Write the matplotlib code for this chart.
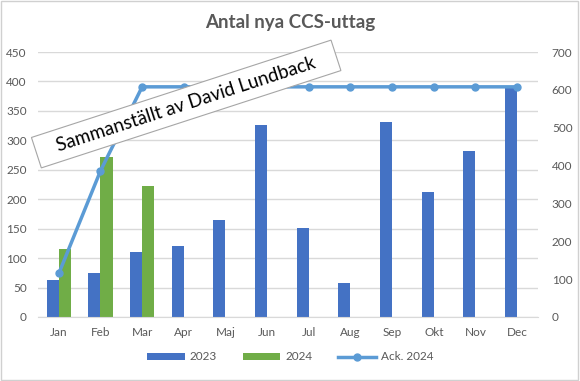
import numpy as np
import matplotlib
matplotlib.use('Agg')
from matplotlib import pyplot as plt
from matplotlib.patches import Rectangle

months = ['Jan', 'Feb', 'Mar', 'Apr', 'Maj', 'Jun', 'Jul', 'Aug', 'Sep', 'Okt', 'Nov', 'Dec']
values_2023 = [63, 74, 110, 120, 165, 326, 151, 57, 331, 212, 282, 391]
values_2024 = [115, 271, 222]
ack_2024 = [115, 386, 608, 608, 608, 608, 608, 608, 608, 608, 608, 608]

BLUE = '#4472C4'
GREEN = '#70AD47'
LINE = '#5B9BD5'
TEXT = '#595959'
GRID = '#D9D9D9'

plt.rcParams['font.family'] = ['Lato', 'DejaVu Sans']

fig = plt.figure(figsize=(5.8, 3.81), dpi=100)
fig.patches.append(Rectangle((0.002, 0.003), 0.995, 0.994, transform=fig.transFigure,
                             fill=False, edgecolor='#D0D0D0', linewidth=1))
ax = fig.add_axes([0.0655, 0.168, 0.862, 0.6955])
ax2 = ax.twinx()

x = np.arange(len(months))
w = 0.29
ax.bar(x - w / 2, values_2023, width=w, color=BLUE, label='2023', zorder=2)
ax.bar(x[:len(values_2024)] + w / 2, values_2024, width=w, color=GREEN, label='2024', zorder=2)
line, = ax2.plot(x, ack_2024, color=LINE, linewidth=2.5, marker='o', markersize=5,
                 label='Ack. 2024', zorder=3)

ax.set_xlim(-0.5, len(months) - 0.5)
ax.set_ylim(0, 450)
ax.set_yticks(range(0, 451, 50))
ax2.set_ylim(0, 700)
ax2.set_yticks(range(0, 701, 100))
ax.set_xticks(x)
ax.set_xticklabels(months)
ax.yaxis.grid(True, color=GRID, linewidth=1, zorder=0)
ax.set_axisbelow(True)

for a in (ax, ax2):
    for s in a.spines.values():
        s.set_visible(False)
    a.tick_params(length=0, colors=TEXT, labelsize=8.5)
ax.spines['bottom'].set_visible(True)
ax.spines['bottom'].set_color(GRID)
ax.tick_params(axis='x', pad=7)
ax.tick_params(axis='y', pad=8)
ax2.tick_params(axis='y', pad=10)

fig.text(0.5, 0.94, 'Antal nya CCS-uttag', ha='center', va='center',
         fontsize=13.5, fontweight='bold', color=TEXT)

fig.text(0.321, 0.727, '   Sammanställt av David Lundback   ', rotation=18,
         rotation_mode='anchor', ha='center', va='center', fontsize=13.5, color='black',
         bbox=dict(boxstyle='square,pad=0.4', facecolor='white', edgecolor='#A6A6A6',
                   linewidth=0.8), zorder=10)

handles = ax.get_legend_handles_labels()[0] + [line]
fig.legend(handles, ['2023', '2024', 'Ack. 2024'], loc='center', bbox_to_anchor=(0.5, 0.063),
           ncol=3, frameon=False, fontsize=8.5, labelcolor=TEXT, handlelength=3.2,
           handleheight=0.5, columnspacing=2.2, handletextpad=0.4)

fig.savefig('out.png', dpi=100)
